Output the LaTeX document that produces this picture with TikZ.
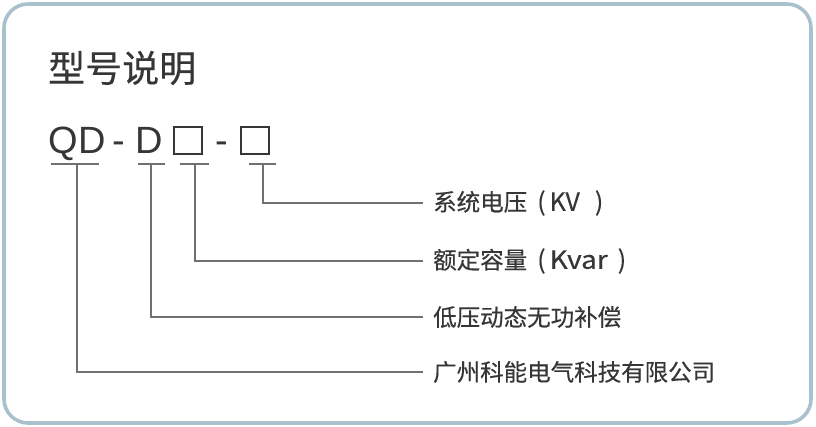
\documentclass[tikz,border=0pt]{standalone}
\usepackage{fontspec}
\setmainfont{Liberation Sans}
\newfontfamily\cjk[FakeBold=0.4]{Noto Sans CJK SC}
\definecolor{framec}{HTML}{A9C1CC}
\definecolor{txt}{HTML}{363636}
\definecolor{linec}{HTML}{707070}
\newcommand{\latn}[1]{{\fontsize{25}{25}\selectfont #1}}
\begin{document}
\begin{tikzpicture}[x=1pt,y=-1pt,
  frame/.style={draw=framec, line width=3.6pt, rounded corners=24pt},
  codetext/.style={text=txt, inner sep=0pt, anchor=base west, font=\fontsize{38}{38}\selectfont},
  codedash/.style={text=txt, inner sep=0pt, anchor=base, font=\fontsize{38}{38}\selectfont},
  codebox/.style={draw=txt, line width=2pt, minimum width=28pt, minimum height=27.5pt, inner sep=0pt},
  uline/.style={draw=linec, line width=1.2pt},
  conn/.style={draw=linec, line width=1.2pt},
  lab/.style={text=txt, anchor=west, inner xsep=10pt, inner ysep=0pt, font=\cjk\fontsize{23.5}{23.5}\selectfont}
]
\useasboundingbox (0,0) rectangle (816,427);
\path[frame] (4,4) rectangle (811,423);

\node[text=txt, anchor=west, inner sep=0pt, font=\cjk\fontsize{37}{37}\selectfont] (title) at (48,68) {型号说明};

\node[codetext] (qd) at (48.5,154) {QD};
\node[codedash] (d1) at (118.5,154) {-};
\node[codetext] (dd) at (135,154) {D};
\node[codebox] (b1) at (188,140.5) {};
\node[codedash] (d2) at (222,154) {-};
\node[codebox] (b2) at (254.5,140.5) {};

% underlines
\path[uline] (51,164) -- (99,164);
\path[uline] (138,164) -- (165,164);
\path[uline] (180,164) -- (209,164);
\path[uline] (249,164) -- (276,164);
\coordinate (u1) at (77,164);
\coordinate (u2) at (151,164);
\coordinate (u3) at (195,164);
\coordinate (u4) at (263,164);

% labels
\node[lab] (l1) at (423,203) {系统电压\latn{\hspace{10pt}(\hspace{4pt}KV\hspace{15pt})}};
\node[lab] (l2) at (423,261) {额定容量\latn{\hspace{10pt}(\hspace{4pt}\scalebox{1.12}[1]{Kvar}\hspace{10pt})}};
\node[lab] (l3) at (423,317) {低压动态无功补偿};
\node[lab] (l4) at (423,372) {广州科能电气科技有限公司};

\path[conn] (u4) |- (l1.west);
\path[conn] (u3) |- (l2.west);
\path[conn] (u2) |- (l3.west);
\path[conn] (u1) |- (l4.west);
\end{tikzpicture}
\end{document}
